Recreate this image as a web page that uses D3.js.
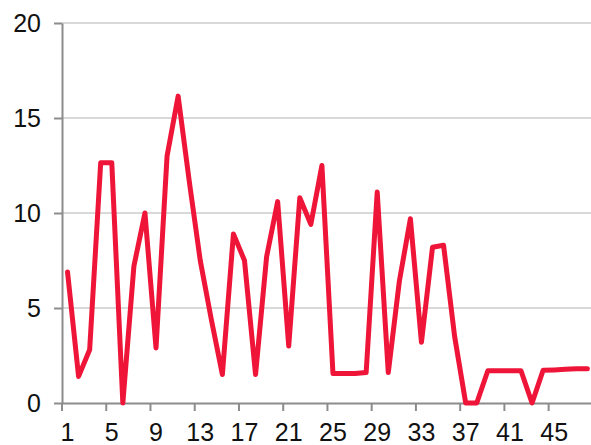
<!DOCTYPE html>
<html>
<head>
<meta charset="utf-8">
<script src="https://cdn.jsdelivr.net/npm/d3@7"></script>
<style>
  body { margin: 0; background: #fff; }
  text { font-family: "Liberation Sans", Arial, sans-serif; }
</style>
</head>
<body>
<script>
var w = 591;
var h = 445;

// categories 1..48 and values
var categories = [];
for (var i = 1; i <= 48; i++) categories.push(i);
var values = [6.9, 1.4, 2.8, 12.65, 12.65, 0, 7.2, 10, 2.9, 13,
  16.15, 11.7, 7.5, 4.4, 1.5, 8.9, 7.5, 1.5, 7.7, 10.6,
  3.0, 10.8, 9.4, 12.5, 1.55, 1.55, 1.55, 1.6, 11.1, 1.6,
  6.4, 9.7, 3.2, 8.2, 8.3, 3.5, 0, 0, 1.7, 1.7,
  1.7, 1.7, 0, 1.72, 1.74, 1.77, 1.8, 1.8];
var yTicks = [0, 5, 10, 15, 20];
var xTickLabels = [1, 5, 9, 13, 17, 21, 25, 29, 33, 37, 41, 45];

var plotLeft = 62, plotTop = 23, plotBottom = 403;
var bw = 11.06;

var svg = d3.select("body")
  .append("svg")
  .attr("width", w)
  .attr("height", h);

var x = d3.scaleBand()
  .domain(categories)
  .range([plotLeft, plotLeft + bw * categories.length])
  .padding(0);

var y = d3.scaleLinear()
  .domain([0, 20])
  .range([plotBottom, plotTop]);

// gridlines
svg.selectAll("line.grid")
  .data(yTicks.filter(function(d) { return d > 0; }))
  .enter()
  .append("line")
  .attr("class", "grid")
  .attr("x1", plotLeft)
  .attr("x2", w)
  .attr("y1", function(d) { return y(d); })
  .attr("y2", function(d) { return y(d); })
  .attr("stroke", "#d9d9d9")
  .attr("stroke-width", 2);

// y axis
var yAxis = svg.append("g")
  .attr("transform", "translate(" + plotLeft + ",0)")
  .call(d3.axisLeft(y).tickValues(yTicks).tickSize(8).tickPadding(13).tickSizeOuter(0));
yAxis.select(".domain").attr("stroke", "#8c8c8c").attr("stroke-width", 2);
yAxis.selectAll(".tick line").attr("stroke", "#8c8c8c").attr("stroke-width", 2);
yAxis.selectAll(".tick text")
  .attr("font-size", "25px")
  .attr("fill", "#111")
  .attr("font-family", "Liberation Sans, Arial, sans-serif");

// x axis
var xAxis = svg.append("g")
  .attr("transform", "translate(0," + plotBottom + ")")
  .call(d3.axisBottom(x).tickValues(xTickLabels).tickSize(8).tickPadding(12).tickSizeOuter(0));
xAxis.select(".domain").attr("stroke", "#8c8c8c").attr("stroke-width", 2);
xAxis.selectAll(".tick line")
  .attr("x1", -bw / 2)
  .attr("x2", -bw / 2)
  .attr("stroke", "#8c8c8c")
  .attr("stroke-width", 2);
xAxis.selectAll(".tick text")
  .attr("font-size", "25px")
  .attr("fill", "#111")
  .attr("font-family", "Liberation Sans, Arial, sans-serif");

// the line
var line = d3.line()
  .x(function(d, i) { return x(categories[i]) + bw / 2; })
  .y(function(d) { return y(d); });

svg.append("path")
  .datum(values)
  .attr("d", line)
  .attr("fill", "none")
  .attr("stroke", "#ef1538")
  .attr("stroke-width", 5)
  .attr("stroke-linejoin", "round")
  .attr("stroke-linecap", "round");
</script>
</body>
</html>
